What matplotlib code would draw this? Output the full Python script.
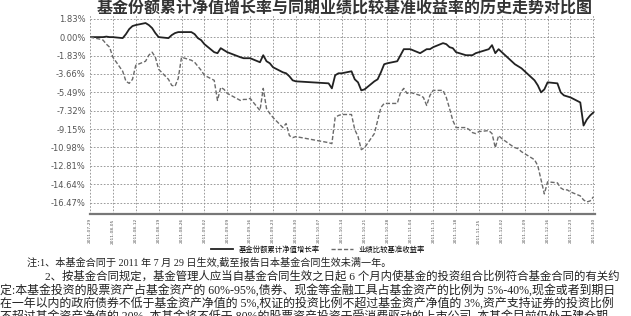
import matplotlib
matplotlib.use('Agg')
import matplotlib.pyplot as plt
import pandas as pd

plt.rcParams['font.family'] = ['Noto Sans CJK SC', 'DejaVu Sans']
plt.rcParams['axes.unicode_minus'] = False

# trading days 2011-07-29 .. 2011-12-30 (mid-autumn + national day closed)
holidays = ['2011-09-12', '2011-10-03', '2011-10-04', '2011-10-05',
            '2011-10-06', '2011-10-07']
days = pd.bdate_range('2011-07-29', '2011-12-30', freq='C', holidays=holidays)

# cumulative NAV growth of the fund (%)
fund = [0.0,
        0.0, 0.0, 0.05, 0.0, 0.0, -0.1, 0.3, 0.8, 1.1, 1.2, 1.4, 1.2, 0.9, 0.4,
        0.0, -0.1, 0.2, 0.4, 0.5, 0.5, 0.5, 0.3, -0.1,
        -0.3, -0.7, -1.5, -1.6, -1.1, -1.3, -1.5, -2.0, -2.1, -2.1, -2.1, -2.5,
        -1.8, -2.4, -2.6, -3.0, -3.5, -3.6, -3.9, -4.3, -4.4,
        -4.6, -5.1, -3.8, -3.6, -3.6, -3.4, -4.2, -4.5, -5.3, -5.2, -4.4, -4.2,
        -3.5, -2.7, -2.6, -2.4,
        -1.8, -1.2, -1.2, -1.2, -1.6, -1.4, -1.2, -1.2, -1.0, -0.6, -0.7, -1.0,
        -1.1, -1.5, -1.8, -1.8, -1.8, -1.6, -1.5, -1.2, -0.8, -1.6,
        -1.2, -1.5, -2.4, -2.7, -2.9, -3.1, -3.4, -4.3, -4.8, -5.5, -5.2, -4.5,
        -4.6, -5.5, -5.8, -5.9, -6.0, -6.5, -8.8, -8.2, -7.8, -7.5]

# benchmark return (%)
bench = [0.0,
         -0.2, -0.3, -0.7, -1.0, -2.0, -3.4, -4.4, -4.6, -4.2, -2.8, -2.4, -1.8,
         -1.5, -2.0, -3.2, -4.2, -4.8, -4.9, -4.1, -2.0, -2.3, -2.5, -2.9,
         -3.3, -3.8, -4.3, -6.3, -5.0, -5.2, -5.6, -6.3, -6.2, -6.2, -6.1, -7.3,
         -5.1, -7.1, -7.6, -8.0, -9.0, -8.6, -9.8, -10.0, -9.9,
         -10.5, -10.6, -8.0, -7.8, -7.7, -7.7, -9.2, -9.9, -11.2, -11.0, -9.6,
         -8.3, -7.0, -6.6, -6.6, -6.6,
         -5.5, -5.1, -5.6, -5.5, -5.8, -6.0, -6.8, -5.8, -5.3, -5.3, -6.0, -7.1,
         -8.3, -9.0, -9.0, -9.2, -9.5, -9.6, -9.4, -9.3, -9.6, -11.0,
         -9.8, -10.1, -10.8, -11.0, -11.1, -11.4, -11.6, -12.2, -12.8, -14.2,
         -15.6, -14.4, -14.5, -15.0, -15.2, -15.2, -15.4, -15.8, -16.2, -16.4,
         -16.3, -15.9]

y_ticks = [1.83, 0.00, -1.83, -3.66, -5.49, -7.32, -9.15, -10.98, -12.81,
           -14.64, -16.47]
x_ticks = pd.date_range('2011-07-29', '2011-12-30', freq='7D')

title = '基金份额累计净值增长率与同期业绩比较基准收益率的历史走势对比图'
labels = ['基金份额累计净值增长率', '业绩比较基准收益率']
notes = [
    '注:1、本基金合同于 2011 年 7 月 29 日生效,截至报告日本基金合同生效未满一年。',
    '2、按基金合同规定，基金管理人应当自基金合同生效之日起 6 个月内使基金的投资组合比例符合基金合同的有关约',
    '定:本基金投资的股票资产占基金资产的 60%-95%,债券、现金等金融工具占基金资产的比例为 5%-40%,现金或者到期日',
    '在一年以内的政府债券不低于基金资产净值的 5%,权证的投资比例不超过基金资产净值的 3%,资产支持证券的投资比例',
    '不超过基金资产净值的 20%, 本基金将不低于 80%的股票资产投资于受消费驱动的上市公司, 本基金目前仍处于建仓期。',
]

fig = plt.figure(figsize=(6.31, 3.16), dpi=100)
ax = fig.add_axes([90/631, 1-214/316, 505/631, 199/316])

ax.plot(days, fund, color='#222222', lw=1.3, label=labels[0])
ax.plot(days, bench, color='#6a6a6a', lw=1.0, ls=(0, (3, 1.5)), label=labels[1])

ax.set_xlim(days[0], pd.Timestamp('2011-12-30 12:00'))
ax.set_ylim(-17.6, 2.2)

ax.set_yticks(y_ticks)
ax.set_yticklabels([f'{v:.2f}%' for v in y_ticks], fontsize=6,
                   color='#555555', family='DejaVu Sans')
ax.set_xticks(x_ticks)
ax.set_xticklabels([d.strftime('%Y-%m-%d') for d in x_ticks], rotation=90,
                   fontsize=3.2, color='#555555', family='DejaVu Sans')
ax.tick_params(length=0, pad=3)

ax.grid(True, color='#8a8a8a', lw=0.6, ls=(0, (2, 2)))
for s in ['top', 'right', 'left']:
    ax.spines[s].set_visible(False)
ax.spines['bottom'].set_color('#777777')
ax.spines['bottom'].set_linewidth(1.6)

fig.text(345/631, 1-8/316, title, ha='center', va='center', fontsize=11.5,
         fontweight='bold', color='#333333')

fig.legend(loc='center', bbox_to_anchor=(318/631, 1-250/316), ncol=2,
           frameon=False, fontsize=5.3, handlelength=3, columnspacing=1.5)

note_font = ['Liberation Serif', 'Noto Sans CJK SC']
fig.text(27/631, 1-262/316, notes[0], fontsize=7.3, va='center',
         family=note_font, color='#222222')
fig.text(45/631, 1-276/316, notes[1], fontsize=8.2, va='center',
         family=note_font, color='#222222')
for i, line in enumerate(notes[2:]):
    fig.text(0, 1-(290 + 13.5*i)/316, line, fontsize=8.6, va='center',
             family=note_font, color='#222222')

fig.savefig('out.png', dpi=100)
